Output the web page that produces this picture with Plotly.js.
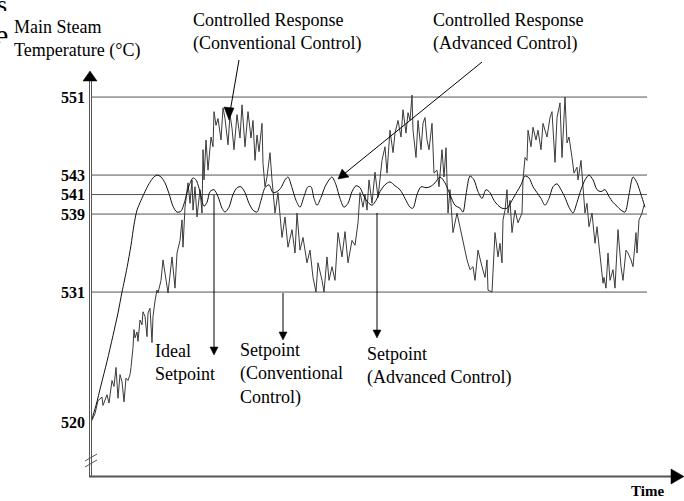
<!DOCTYPE html>
<html>
<head>
<meta charset="utf-8">
<script src="https://cdn.plot.ly/plotly-3.0.1.min.js"></script>
<style>html,body{margin:0;padding:0;background:#fff;}#chart{width:684px;height:501px;}</style>
</head>
<body>
<div id="chart"></div>
<script>
// ---- data (time in arbitrary units, temperature in °C) ----
const convTime = [0,4,7,11,12,16,18,21,23,25,27,29,31,33,35,37,39,40,42,43,44,46,47,49,51,52,54,56,57,59,61,62,64,66,67,70,72,77,81,84,86,89,91,92,94,96,97,99,101,102,104,106,109,111,112,113,115,117,120,122,123,125,127,130,132,134,137,139,141,143,146,149,151,154,157,160,162,164,166,168,171,172,174,176,179,181,184,187,191,194,197,201,204,206,209,212,216,219,222,225,227,231,233,236,238,241,244,247,251,254,257,261,264,267,269,272,274,276,278,281,284,287,291,294,296,299,302,304,307,310,312,315,317,319,321,322,325,327,330,332,334,336,338,341,343,346,348,351,353,355,357,359,362,366,369,372,376,379,382,384,387,391,394,396,397,401,404,407,409,411,412,414,416,417,419,421,424,427,431,432,434,436,437,440,442,445,447,450,452,456,459,461,464,466,469,471,474,476,478,481,483,486,487,490,492,494,496,498,501,504,506,509,512,513,515,517,519,522,524,527,530,532,535,537,540,542,545,546,548,551,553];
const convTemp = [520.0,520.7,521.8,522.1,521.4,522.3,521.6,523.5,523.0,524.6,522.0,524.0,523.4,521.7,523.7,523.5,524.0,524.6,526.3,527.8,527.1,527.6,526.8,528.6,528.2,529.3,528.9,527.2,529.2,529.6,526.7,528.9,530.2,531.2,530.9,532.2,534.3,530.9,534.6,531.4,535.0,536.3,538.4,535.6,539.7,541.2,542.2,540.1,542.5,539.4,541.8,538.7,541.5,539.1,545.6,542.5,546.6,543.5,546.9,545.9,549.5,548.1,548.8,546.6,549.9,548.8,546.1,549.2,547.8,545.6,549.2,546.8,550.2,545.9,549.5,546.8,548.6,544.5,547.1,545.4,548.3,544.2,541.8,542.8,545.3,542.5,539.1,541.2,536.6,538.7,535.6,537.4,535.0,539.1,535.3,536.6,534.0,535.3,532.5,531.0,534.0,532.2,531.0,534.6,532.2,533.6,532.2,537.1,534.6,537.2,534.0,536.3,535.8,538.1,541.2,539.7,541.0,539.4,542.5,540.1,543.3,540.7,544.5,545.9,543.2,547.6,545.3,547.3,548.6,546.9,549.7,547.3,549.4,548.6,551.2,547.6,544.8,548.6,545.6,548.3,548.9,546.6,545.6,548.3,543.2,543.5,541.8,545.6,542.8,545.8,539.1,541.5,537.1,539.1,537.7,536.3,534.3,533.3,533.6,532.2,535.3,533.6,532.5,534.3,531.2,531.0,537.1,534.6,536.0,534.0,538.4,539.4,541.5,539.1,540.4,537.1,539.4,538.1,539.1,542.5,544.8,544.5,547.6,545.9,547.9,546.6,547.6,545.6,548.3,546.9,548.9,549.5,544.3,548.9,550.4,544.8,551.0,546.3,546.9,544.8,543.2,543.8,542.5,544.5,541.2,539.1,540.1,537.7,539.1,536.0,537.7,534.6,531.9,532.5,531.4,535.0,532.2,533.3,531.4,537.4,533.6,532.2,535.3,535.0,534.3,533.6,537.1,535.0,538.4,539.1,539.9];

const advTime = [0,5,10,16,22,27,31,36,40,43,46,50,54,58,62,66,70,74,78,82,86,90,94,98,102,105,109,113,116,119,123,127,131,134,138,142,146,150,154,158,162,166,170,174,178,182,186,190,194,197,201,205,209,213,217,220,223,226,230,234,238,241,245,249,253,257,261,265,269,273,277,281,285,289,294,299,304,309,314,319,322,326,330,335,339,344,349,354,359,364,369,372,375,379,383,387,391,395,399,403,407,411,416,421,426,430,434,438,442,446,450,454,458,462,466,470,474,478,482,486,490,494,498,502,506,510,514,518,522,526,530,534,538,542,546,550,554];
const advTemp = [520.0,521.4,523.1,525.1,527.3,529.2,531.0,533.5,535.8,537.9,539.4,540.4,541.3,542.1,542.7,543.0,542.8,542.2,541.1,539.8,539.2,539.3,540.4,541.9,542.7,542.5,541.3,539.8,540.2,541.3,541.5,540.8,539.6,539.2,539.7,541.0,541.7,541.8,541.2,540.1,539.4,539.2,540.4,541.7,542.0,541.2,541.3,541.7,542.5,542.8,541.7,540.4,539.7,540.8,541.8,541.8,540.6,539.9,540.7,541.8,542.5,542.8,542.0,540.6,539.7,540.1,541.3,541.9,541.7,540.8,540.2,539.9,540.4,541.3,542.0,542.3,541.9,541.5,540.6,539.7,539.6,541.0,541.8,541.7,541.8,542.2,542.8,542.2,541.0,539.9,539.6,539.2,541.0,542.9,542.5,541.3,540.6,541.5,541.2,540.4,539.9,539.6,539.6,540.4,541.3,542.0,542.9,542.7,541.8,541.2,540.6,539.9,540.6,541.8,542.1,541.5,540.7,539.7,539.1,540.2,541.5,542.5,543.0,542.5,541.5,541.3,541.5,540.8,540.2,539.8,539.4,539.2,541.0,542.8,542.2,541.0,539.7];

const refLevels = [551, 543, 541, 539, 531];
const upperTicks = [531, 539, 541, 543, 551];
const lowerTicks = [520];

// ---- layout helpers (pixel -> paper) ----
const L = 91, TOP = 72, W = 556, H = 404, BOT = TOP + H;
const px = x => (x - L) / W;
const py = y => (BOT - y) / H;
const GRAY = '#555';
const FONT = 'Liberation Serif, Times New Roman, serif';

function seg(x0, y0, x1, y1, color, width) {
  return {type: 'line', xref: 'paper', yref: 'paper', x0: px(x0), y0: py(y0), x1: px(x1), y1: py(y1),
          line: {color: color, width: width}, layer: 'above'};
}
function tri(pts, color) {
  const d = pts.map((p, i) => (i ? 'L' : 'M') + px(p[0]) + ',' + py(p[1])).join(' ') + ' Z';
  return {type: 'path', xref: 'paper', yref: 'paper', path: d, fillcolor: color, line: {color: color, width: 0.5}, layer: 'above'};
}
function txt(x, y, text, opts) {
  return Object.assign({xref: 'paper', yref: 'paper', x: px(x), y: py(y), text: text, showarrow: false,
    xanchor: 'left', yanchor: 'middle', align: 'left', font: {family: FONT, size: 18, color: '#000'}}, opts || {});
}

const boundary = 530.8;
const split = py(294);

const traces = [];
['y', 'y2'].forEach(ya => {
  traces.push({x: convTime, y: convTemp, type: 'scatter', mode: 'lines', xaxis: 'x', yaxis: ya,
    line: {color: '#3a3a3a', width: 1}, hoverinfo: 'skip', showlegend: false});
  traces.push({x: advTime, y: advTemp, type: 'scatter', mode: 'lines', xaxis: 'x', yaxis: ya,
    line: {color: '#111', width: 1, shape: 'spline', smoothing: 0.8}, hoverinfo: 'skip', showlegend: false});
});

const shapes = [];
refLevels.forEach(v => shapes.push({type: 'line', xref: 'x', yref: 'y', x0: 1, x1: 556, y0: v, y1: v,
  line: {color: GRAY, width: 1}, layer: 'below'}));
// y axis (double line) with arrow
shapes.push(seg(89.5, 80, 89.5, 476, GRAY, 1));
shapes.push(seg(91.5, 80, 91.5, 476, GRAY, 1));
shapes.push(tri([[90, 71], [83, 81], [97, 81]], '#000'));
// axis break marks
shapes.push(seg(85, 461, 97, 454, GRAY, 1));
shapes.push(seg(85, 467, 97, 460, GRAY, 1));
// x axis with arrow
shapes.push(seg(89, 476.5, 672, 476.5, GRAY, 2));
shapes.push(tri([[684, 476.5], [671, 469], [671, 484]], '#000'));
// annotation arrows
shapes.push(seg(239, 60, 230, 112, '#000', 1));
shapes.push(tri([[229, 120], [224, 107], [234, 108]], '#000'));
shapes.push(seg(482, 62, 344, 174, '#000', 1));
shapes.push(tri([[338, 179], [342, 169], [349, 177]], '#000'));
shapes.push(seg(214, 195, 214, 348, '#000', 1));
shapes.push(tri([[214, 355], [210, 347], [218, 347]], '#000'));
shapes.push(seg(283, 293, 283, 333, '#000', 1));
shapes.push(tri([[283, 340], [279, 332], [287, 332]], '#000'));
shapes.push(seg(377, 213, 377, 331, '#000', 1));
shapes.push(tri([[377, 338], [373, 330], [381, 330]], '#000'));

const annotations = [
  txt(12, 38.5, 'Main Steam<br>Temperature (°C)'),
  txt(191, 31.5, 'Controlled Response<br>(Conventional Control)'),
  txt(431, 32, 'Controlled Response<br>(Advanced Control)'),
  txt(153, 362, 'Ideal<br>Setpoint'),
  txt(238, 374, 'Setpoint<br>(Conventional<br>Control)'),
  txt(365, 365.5, 'Setpoint<br>(Advanced Control)'),
  txt(629, 491, '<b>Time</b>', {font: {family: FONT, size: 15, color: '#000'}}),
  txt(10, 34, 'e', {xanchor: 'right', height: 18, font: {family: FONT, size: 30, color: '#000'}}),
  txt(9, 4, 's', {xanchor: 'right', height: 14, font: {family: FONT, size: 26, color: '#000'}})
];

const tickFont = {family: FONT, size: 16, color: '#000', weight: 'bold'};
const layout = {
  width: 684, height: 501,
  margin: {l: L, r: 684 - L - W, t: TOP, b: 501 - BOT},
  paper_bgcolor: '#fff', plot_bgcolor: 'rgba(0,0,0,0)',
  showlegend: false,
  xaxis: {domain: [0, 1], range: [0, W], showgrid: false, zeroline: false, showline: false,
    showticklabels: false, ticks: '', fixedrange: true},
  yaxis: {domain: [split, 1], range: [boundary, boundary + (294 - TOP) / 9.75], anchor: 'x',
    showgrid: false, zeroline: false, showline: false, ticks: '', tickmode: 'array',
    tickvals: upperTicks, ticktext: upperTicks.map(String), tickfont: tickFont, ticklabelstandoff: 5},
  yaxis2: {domain: [0, split], range: [boundary - (BOT - 294) / 11.85, boundary], anchor: 'x',
    showgrid: false, zeroline: false, showline: false, ticks: '', tickmode: 'array',
    tickvals: lowerTicks, ticktext: lowerTicks.map(String), tickfont: tickFont, ticklabelstandoff: 5},
  shapes: shapes,
  annotations: annotations,
  font: {family: FONT}
};

Plotly.newPlot('chart', traces, layout, {staticPlot: true, displayModeBar: false});
</script>
</body>
</html>
